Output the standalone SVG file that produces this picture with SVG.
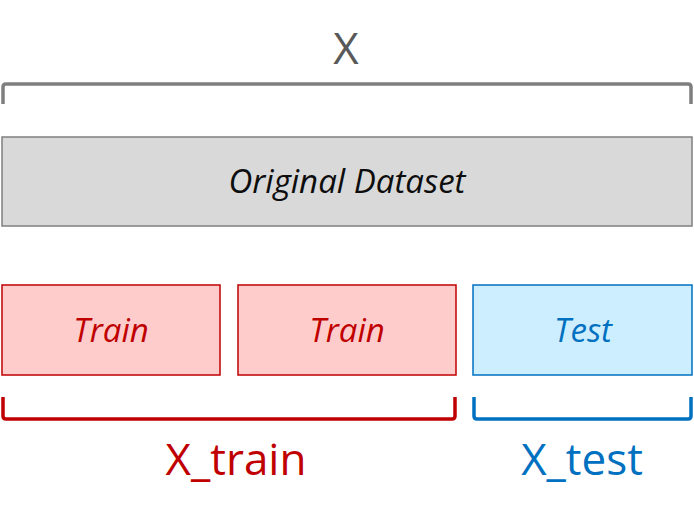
<svg xmlns="http://www.w3.org/2000/svg" width="694" height="518" viewBox="0 0 694 518">
<style>
.lbl{font-family:"Open Sans","Noto Sans","Liberation Sans",sans-serif;text-anchor:middle}
.it{font-style:italic;font-size:33px}
.big{font-size:44px}
.br{fill:none;stroke-width:3.5;stroke-linejoin:round}
</style>
<rect width="694" height="518" fill="#ffffff"/>
<g id="connectors">
<path class="br" d="M3,104 V87 Q3,84 6,84 H688 Q691,84 691,87 V104" stroke="#7f7f7f"/>
<path class="br" d="M3,397 V416 Q3,419 6,419 H452 Q455,419 455,416 V397" stroke="#c00000"/>
<path class="br" d="M474,397 V416 Q474,419 477,419 H688 Q691,419 691,416 V397" stroke="#0070c0"/>
</g>
<g id="x-label"><text class="lbl big" x="346" y="64" fill="#595959">X</text></g>
<g id="original">
<rect x="2" y="137" width="690" height="89" fill="#d9d9d9" stroke="#7f7f7f" stroke-width="1.5"/>
<text class="lbl it" x="347" y="193" fill="#0d0d0d">Original Dataset</text>
</g>
<g id="train1">
<rect x="2" y="285" width="218" height="90" fill="#ffcccc" stroke="#c00000" stroke-width="1.5"/>
<text class="lbl it" x="111" y="342" fill="#c00000">Train</text>
</g>
<g id="train2">
<rect x="238" y="285" width="218" height="90" fill="#ffcccc" stroke="#c00000" stroke-width="1.5"/>
<text class="lbl it" x="347" y="342" fill="#c00000">Train</text>
</g>
<g id="test">
<rect x="473" y="285" width="219" height="90" fill="#cceeff" stroke="#0070c0" stroke-width="1.5"/>
<text class="lbl it" x="583" y="342" fill="#0070c0">Test</text>
</g>
<g id="xtrain"><text class="lbl big" x="236" y="475" fill="#c00000">X_train</text></g>
<g id="xtest"><text class="lbl big" x="582" y="475" fill="#0070c0">X_test</text></g>
</svg>
